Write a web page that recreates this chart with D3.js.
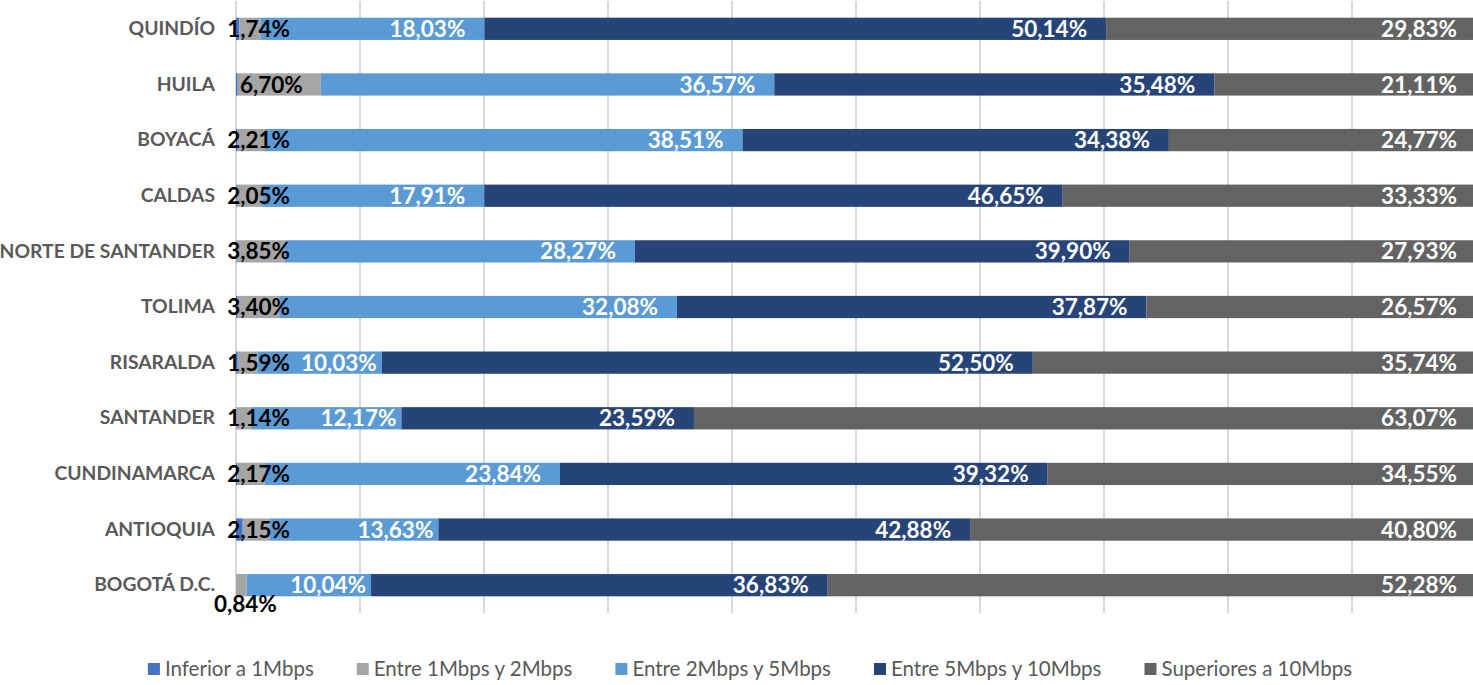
<!DOCTYPE html>
<html>
<head>
<meta charset="utf-8">
<script src="https://cdn.jsdelivr.net/npm/d3@7"></script>
<style>
  body { margin: 0; overflow: hidden; background: #fff; }
  svg { display: block; }
</style>
</head>
<body>
<div id="chart-container"></div>
<script>
// Categories, top to bottom
const categories = ["QUINDÍO", "HUILA", "BOYACÁ", "CALDAS", "NORTE DE SANTANDER", "TOLIMA",
  "RISARALDA", "SANTANDER", "CUNDINAMARCA", "ANTIOQUIA", "BOGOTÁ D.C."];

// Series values (%)
const inferior1 = [0.26, 0.14, 0.13, 0.06, 0.05, 0.08, 0.14, 0.03, 0.12, 0.54, 0.01];
const entre1y2 = [1.74, 6.70, 2.21, 2.05, 3.85, 3.40, 1.59, 1.14, 2.17, 2.15, 0.84];
const entre2y5 = [18.03, 36.57, 38.51, 17.91, 28.27, 32.08, 10.03, 12.17, 23.84, 13.63, 10.04];
const entre5y10 = [50.14, 35.48, 34.38, 46.65, 39.90, 37.87, 52.50, 23.59, 39.32, 42.88, 36.83];
const superiores = [29.83, 21.11, 24.77, 33.33, 27.93, 26.57, 35.74, 63.07, 34.55, 40.80, 52.28];

const seriesNames = ["Inferior a 1Mbps", "Entre 1Mbps y 2Mbps", "Entre 2Mbps y 5Mbps",
  "Entre 5Mbps y 10Mbps", "Superiores a 10Mbps"];
const xTicks = [0, 10, 20, 30, 40, 50, 60, 70, 80, 90, 100];

(() => {
  const W = 1473, H = 685;
  const colors = ["#4472C4", "#A5A5A5", "#5B9BD5", "#264478", "#636363"];
  const labelFill = [null, "#000000", "#ffffff", "#ffffff", "#ffffff"];
  const font = "Lato, 'Open Sans', sans-serif";

  const svg = d3.select("#chart-container")
    .append("svg")
    .attr("width", W)
    .attr("height", H);

  // table built from the arrays
  const keys = ["s0", "s1", "s2", "s3", "s4"];
  const rows = categories.map((c, i) => ({
    cat: c, s0: inferior1[i], s1: entre1y2[i], s2: entre2y5[i], s3: entre5y10[i], s4: superiores[i]
  }));
  const stacked = d3.stack().keys(keys)(rows);

  const x = d3.scaleLinear().domain([0, 100]).range([236, 1476]);
  const y = d3.scaleBand().domain(categories).range([1, 613])
    .paddingInner(0.6).paddingOuter(0.3);

  // gridlines
  svg.append("g")
    .selectAll("line")
    .data(xTicks)
    .enter().append("line")
    .attr("x1", d => x(d)).attr("x2", d => x(d))
    .attr("y1", 1).attr("y2", 613)
    .attr("stroke", "#d9d9d9")
    .attr("stroke-width", 2);

  // bars
  const layers = svg.append("g").selectAll("g")
    .data(stacked)
    .enter().append("g")
    .attr("fill", (d, i) => colors[i]);

  layers.selectAll("rect")
    .data(d => d)
    .enter().append("rect")
    .attr("x", d => x(d[0]))
    .attr("y", d => y(d.data.cat))
    .attr("width", d => x(d[1]) - x(d[0]))
    .attr("height", y.bandwidth());

  // category axis
  const yAxis = d3.axisLeft(y).tickSize(0).tickPadding(0);
  const ga = svg.append("g")
    .attr("transform", "translate(215,0)")
    .call(yAxis);
  ga.select(".domain").remove();
  ga.selectAll("text")
    .attr("fill", "#595959")
    .style("font-family", font)
    .style("font-weight", "bold")
    .style("font-size", "19.3px");

  const fmt = v => v.toFixed(2).replace(".", ",") + "%";

  // data labels
  stacked.forEach((layer, si) => {
    if (si === 0) return;
    const g = svg.append("g")
      .style("font-family", font)
      .style("font-weight", "bold")
      .style("font-size", "22.5px")
      .attr("fill", labelFill[si]);
    layer.forEach(d => {
      const v = d[1] - d[0];
      const segW = x(d[1]) - x(d[0]);
      const cy = y(d.data.cat) + y.bandwidth() / 2;
      const t = g.append("text").text(fmt(v)).attr("dy", "0.36em");
      if (si === 1 && segW < 12) {
        // too thin: label sits below the bar
        t.attr("x", (x(d[0]) + x(d[1])) / 2 + 4)
          .attr("y", cy + y.bandwidth() / 2 + 8)
          .attr("text-anchor", "middle");
      } else if (si === 1) {
        t.attr("x", Math.max(x(d[1]) - 18, x(0) + 54))
          .attr("y", cy)
          .attr("text-anchor", "end");
      } else {
        t.attr("x", x(d[1]) - (segW < 200 ? 5 : 19))
          .attr("y", cy)
          .attr("text-anchor", "end");
      }
    });
  });

  // legend
  const legend = svg.append("g")
    .style("font-family", font)
    .style("font-size", "20.5px")
    .attr("fill", "#595959");
  const items = legend.selectAll("g")
    .data(seriesNames)
    .enter().append("g");
  items.append("rect")
    .attr("width", 12).attr("height", 12)
    .attr("y", 663)
    .attr("fill", (d, i) => colors[i]);
  items.append("text")
    .attr("x", 17)
    .attr("y", 669)
    .attr("dy", "0.36em")
    .text(d => d);
  const widths = [];
  items.each(function() { widths.push(17 + d3.select(this).select("text").node().getComputedTextLength()); });
  const gap = 43;
  const total = d3.sum(widths) + gap * (widths.length - 1);
  let pos = 750 - total / 2;
  items.attr("transform", (d, i) => {
    const p = pos;
    pos += widths[i] + gap;
    return `translate(${p},0)`;
  });
})();
</script>
</body>
</html>
